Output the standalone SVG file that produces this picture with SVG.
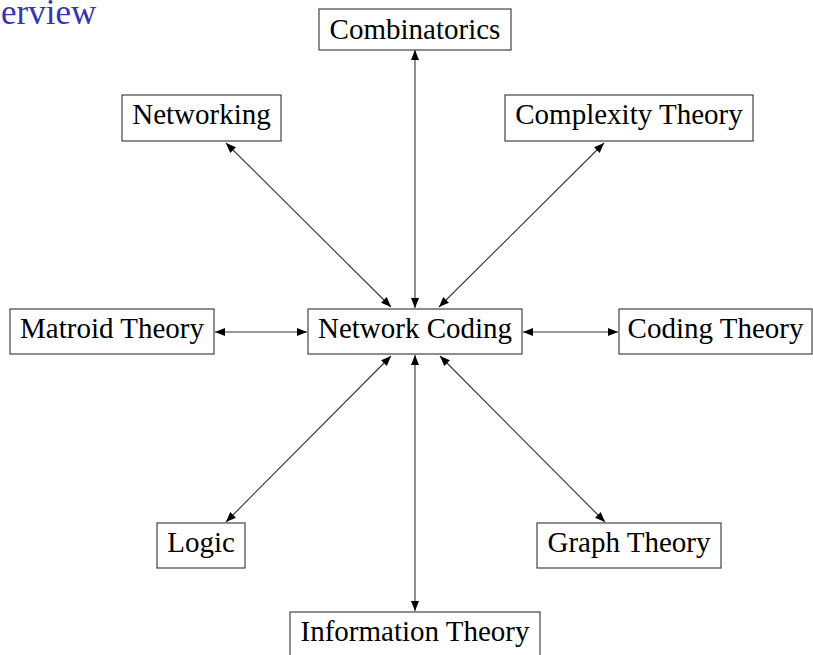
<svg xmlns="http://www.w3.org/2000/svg" width="813" height="655" viewBox="0 0 813 655">
<style>
.box{fill:#fff;stroke:#444;stroke-width:1.2}
.lbl{font-family:"Liberation Serif","Times New Roman",serif;font-size:29px;fill:#000;text-anchor:middle}
.ttl{font-family:"Liberation Serif","Times New Roman",serif;font-size:35px;fill:#3535b0}
.edge{stroke:#333;stroke-width:1.1;fill:none;marker-start:url(#ah);marker-end:url(#ah)}
</style>
<defs>
<marker id="ah" viewBox="0 0 10 8" refX="10" refY="4" markerWidth="10" markerHeight="8" markerUnits="userSpaceOnUse" orient="auto-start-reverse">
<path d="M0,0 L10,4 L0,8 Z" fill="#000"/>
</marker>
</defs>
<rect width="813" height="655" fill="#fff"/>
<text class="ttl" x="1" y="24">erview</text>
<g id="connectors">
<line class="edge" x1="415" y1="50" x2="415" y2="308"/>
<line class="edge" x1="226" y1="143" x2="391" y2="307"/>
<line class="edge" x1="604" y1="143" x2="439" y2="307"/>
<line class="edge" x1="215" y1="332" x2="307" y2="332"/>
<line class="edge" x1="523" y1="332" x2="618" y2="332"/>
<line class="edge" x1="391" y1="356" x2="226" y2="522"/>
<line class="edge" x1="440" y1="356" x2="605" y2="522"/>
<line class="edge" x1="415" y1="355" x2="415" y2="611"/>
</g>
<g id="combinatorics"><rect class="box" x="319" y="9" width="192" height="41"/><text class="lbl" x="415" y="39">Combinatorics</text></g>
<g id="networking"><rect class="box" x="122" y="95" width="159" height="46"/><text class="lbl" x="201.5" y="124">Networking</text></g>
<g id="complexity"><rect class="box" x="505" y="95" width="248" height="46"/><text class="lbl" x="629" y="124">Complexity Theory</text></g>
<g id="matroid"><rect class="box" x="10" y="309" width="204" height="45"/><text class="lbl" x="112" y="338">Matroid Theory</text></g>
<g id="networkcoding"><rect class="box" x="308" y="309" width="214" height="45"/><text class="lbl" x="415" y="338">Network Coding</text></g>
<g id="coding"><rect class="box" x="619" y="309" width="193" height="45"/><text class="lbl" x="715.5" y="338">Coding Theory</text></g>
<g id="logic"><rect class="box" x="157" y="523" width="88" height="45"/><text class="lbl" x="201" y="552">Logic</text></g>
<g id="graph"><rect class="box" x="537" y="523" width="184" height="45"/><text class="lbl" x="629" y="552">Graph Theory</text></g>
<g id="information"><rect class="box" x="290" y="612" width="250" height="46"/><text class="lbl" x="415" y="641">Information Theory</text></g>
</svg>
